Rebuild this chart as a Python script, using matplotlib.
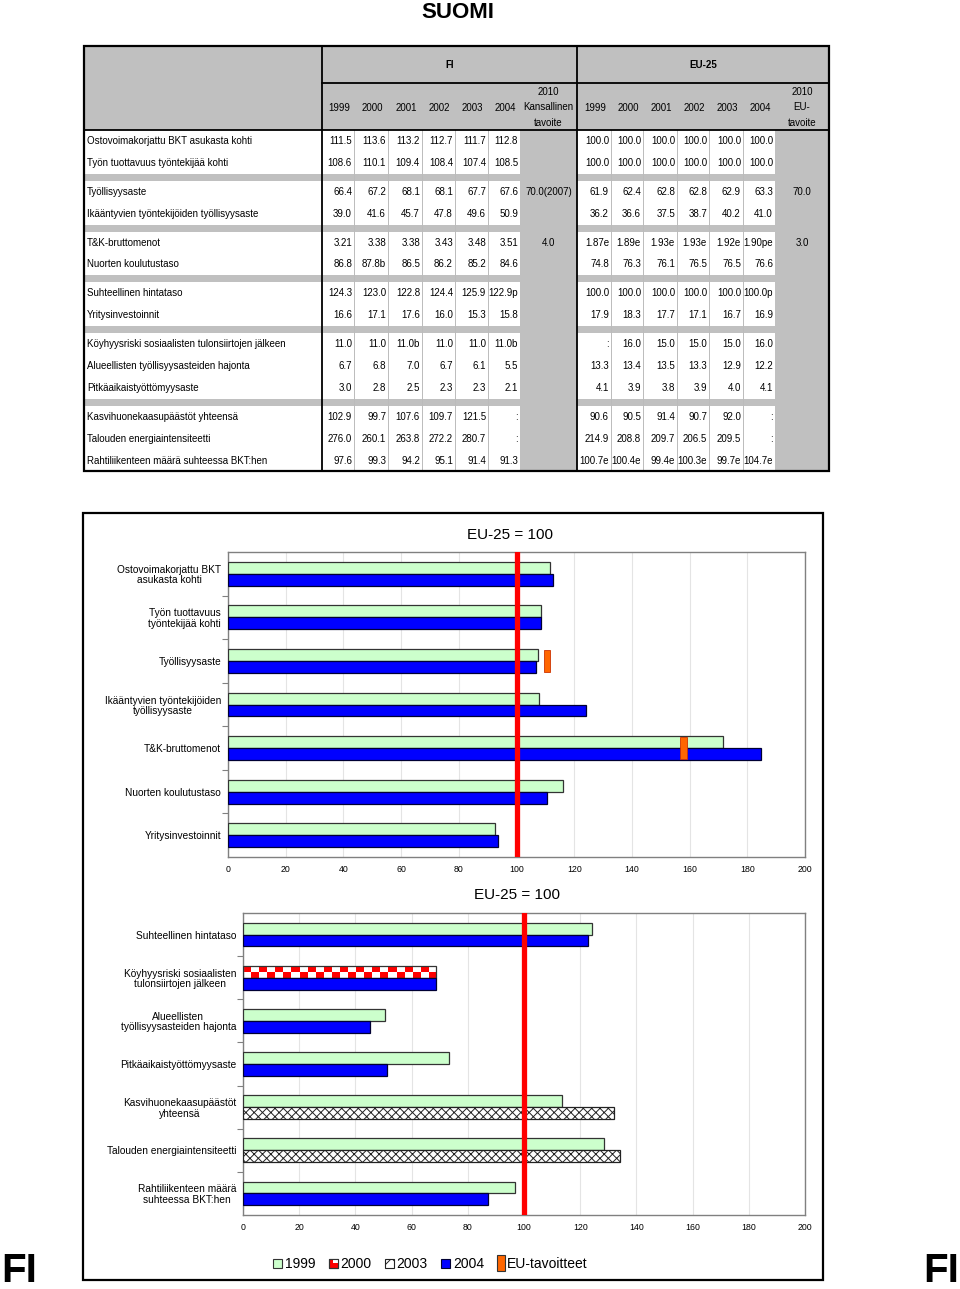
import matplotlib
matplotlib.use("Agg")
import matplotlib.pyplot as plt
from matplotlib.patches import Rectangle
from matplotlib import font_manager
import numpy as np

# ---------------- data ----------------
page_title = "SUOMI"
country_code = "FI"

row_labels = [
    "Ostovoimakorjattu BKT asukasta kohti",
    "Työn tuottavuus työntekijää kohti",
    "Työllisyysaste",
    "Ikääntyvien työntekijöiden työllisyysaste",
    "T&K-bruttomenot",
    "Nuorten koulutustaso",
    "Suhteellinen hintataso",
    "Yritysinvestoinnit",
    "Köyhyysriski sosiaalisten tulonsiirtojen jälkeen",
    "Alueellisten työllisyysasteiden hajonta",
    "Pitkäaikaistyöttömyysaste",
    "Kasvihuonekaasupäästöt yhteensä",
    "Talouden energiaintensiteetti",
    "Rahtiliikenteen määrä suhteessa BKT:hen",
]
row_groups = [2, 2, 2, 2, 3, 3]
years = ["1999", "2000", "2001", "2002", "2003", "2004"]

fi_values = [
    ["111.5", "113.6", "113.2", "112.7", "111.7", "112.8"],
    ["108.6", "110.1", "109.4", "108.4", "107.4", "108.5"],
    ["66.4", "67.2", "68.1", "68.1", "67.7", "67.6"],
    ["39.0", "41.6", "45.7", "47.8", "49.6", "50.9"],
    ["3.21", "3.38", "3.38", "3.43", "3.48", "3.51"],
    ["86.8", "87.8b", "86.5", "86.2", "85.2", "84.6"],
    ["124.3", "123.0", "122.8", "124.4", "125.9", "122.9p"],
    ["16.6", "17.1", "17.6", "16.0", "15.3", "15.8"],
    ["11.0", "11.0", "11.0b", "11.0", "11.0", "11.0b"],
    ["6.7", "6.8", "7.0", "6.7", "6.1", "5.5"],
    ["3.0", "2.8", "2.5", "2.3", "2.3", "2.1"],
    ["102.9", "99.7", "107.6", "109.7", "121.5", ":"],
    ["276.0", "260.1", "263.8", "272.2", "280.7", ":"],
    ["97.6", "99.3", "94.2", "95.1", "91.4", "91.3"],
]
fi_target = ["", "", "70.0(2007)", "", "4.0", "", "", "", "", "", "", "", "", ""]

eu_values = [
    ["100.0", "100.0", "100.0", "100.0", "100.0", "100.0"],
    ["100.0", "100.0", "100.0", "100.0", "100.0", "100.0"],
    ["61.9", "62.4", "62.8", "62.8", "62.9", "63.3"],
    ["36.2", "36.6", "37.5", "38.7", "40.2", "41.0"],
    ["1.87e", "1.89e", "1.93e", "1.93e", "1.92e", "1.90pe"],
    ["74.8", "76.3", "76.1", "76.5", "76.5", "76.6"],
    ["100.0", "100.0", "100.0", "100.0", "100.0", "100.0p"],
    ["17.9", "18.3", "17.7", "17.1", "16.7", "16.9"],
    [":", "16.0", "15.0", "15.0", "15.0", "16.0"],
    ["13.3", "13.4", "13.5", "13.3", "12.9", "12.2"],
    ["4.1", "3.9", "3.8", "3.9", "4.0", "4.1"],
    ["90.6", "90.5", "91.4", "90.7", "92.0", ":"],
    ["214.9", "208.8", "209.7", "206.5", "209.5", ":"],
    ["100.7e", "100.4e", "99.4e", "100.3e", "99.7e", "104.7e"],
]
eu_target = ["", "", "70.0", "", "3.0", "", "", "", "", "", "", "", "", ""]

chart_title = "EU-25 = 100"

chart1_categories = [
    "Ostovoimakorjattu BKT\nasukasta kohti",
    "Työn tuottavuus\ntyöntekijää kohti",
    "Työllisyysaste",
    "Ikääntyvien työntekijöiden\ntyöllisyysaste",
    "T&K-bruttomenot",
    "Nuorten koulutustaso",
    "Yritysinvestoinnit",
]
chart1_upper = [111.5, 108.6, 107.3, 107.7, 171.7, 116.0, 92.7]
chart1_upper_series = ["1999"] * 7
chart1_lower = [112.8, 108.5, 106.8, 124.1, 184.7, 110.4, 93.5]
chart1_lower_series = ["2004"] * 7
chart1_targets = [None, None, 110.6, None, 157.9, None, None]

chart2_categories = [
    "Suhteellinen hintataso",
    "Köyhyysriski sosiaalisten\ntulonsiirtojen jälkeen",
    "Alueellisten\ntyöllisyysasteiden hajonta",
    "Pitkäaikaistyöttömyysaste",
    "Kasvihuonekaasupäästöt\nyhteensä",
    "Talouden energiaintensiteetti",
    "Rahtiliikenteen määrä\nsuhteessa BKT:hen",
]
chart2_upper = [124.3, 68.8, 50.4, 73.2, 113.6, 128.4, 96.9]
chart2_upper_series = ["1999", "2000", "1999", "1999", "1999", "1999", "1999"]
chart2_lower = [122.9, 68.8, 45.1, 51.2, 132.1, 134.0, 87.2]
chart2_lower_series = ["2004", "2004", "2004", "2004", "2003", "2003", "2004"]
chart2_targets = [None] * 7

legend_labels = ["1999", "2000", "2003", "2004", "EU-tavoitteet"]

# ---------------- styles ----------------
W, H, DPI = 960, 1289, 100
_names = {f.name for f in font_manager.fontManager.ttflist}
if "Liberation Sans Narrow" in _names:
    NARROW = ["Liberation Sans Narrow", "DejaVu Sans"]
    FS = 8
else:
    NARROW = ["Liberation Sans", "DejaVu Sans"]
    FS = 7
ARIAL = ["Liberation Sans", "DejaVu Sans"]
GRAY = "#C0C0C0"
STYLE = {
    "1999": dict(fc="#CCFFCC", ec="#333333", hatch=None),
    "2000": dict(fc="white", ec="#333333", hatch="checker"),
    "2003": dict(fc="white", ec="#222222", hatch="xxxx"),
    "2004": dict(fc="#0000FF", ec="#000033", hatch=None),
}
TARGET_FC, TARGET_EC = "#FF6600", "#CC3300"

plt.rcParams["hatch.linewidth"] = 0.7

fig = plt.figure(figsize=(W / DPI, H / DPI), dpi=DPI)
bg = fig.add_axes([0, 0, 1, 1])
bg.set_xlim(0, W)
bg.set_ylim(H, 0)
bg.axis("off")


def frac(x0, y0, x1, y1):
    return [x0 / W, 1 - y1 / H, (x1 - x0) / W, (y1 - y0) / H]


# ---------------- titles ----------------
bg.text(458, 12, page_title, ha="center", va="center", fontsize=16,
        fontweight="bold", family=NARROW)
bg.text(1, 1271, country_code, ha="left", va="center", fontsize=29,
        fontweight="bold", family=NARROW)
bg.text(959, 1271, country_code, ha="right", va="center", fontsize=29,
        fontweight="bold", family=NARROW)

# ---------------- table ----------------
TX0, TX1, TY0, TY1 = 84, 829, 46, 471
LBL_R = 322
FI_COLS = [322, 354, 388, 422, 455, 488, 520]
FI_TGT = (520, 577)
EU_COLS = [577, 611, 643, 677, 709, 743, 775]
EU_TGT = (775, 829)
HDR1, HDR2 = 83, 130
ROW_H, SEP_H = 21.9, 7.0

bg.add_patch(Rectangle((TX0, TY0), TX1 - TX0, TY1 - TY0, fc=GRAY, ec="none", zorder=0))

row_centers = []
y = HDR2
for gi, g in enumerate(row_groups):
    if gi > 0:
        y += SEP_H
    top = y
    for _ in range(g):
        row_centers.append(y + ROW_H / 2)
        y += ROW_H
    for (a, b) in [(TX0, FI_COLS[-1]), (EU_COLS[0], EU_COLS[-1])]:
        bg.add_patch(Rectangle((a, top), b - a, y - top, fc="white", ec="none", zorder=1))

for xs in (FI_COLS[1:-1], EU_COLS[1:-1]):
    for x in xs:
        bg.plot([x, x], [HDR2, TY1], color="#BBBBBB", lw=0.7, zorder=2)

bg.plot([LBL_R, LBL_R], [TY0, TY1], color="black", lw=1.3, zorder=3)
bg.plot([EU_COLS[0], EU_COLS[0]], [TY0, TY1], color="black", lw=1.3, zorder=3)
bg.plot([LBL_R, TX1], [HDR1, HDR1], color="black", lw=1.3, zorder=3)
bg.plot([TX0, TX1], [HDR2, HDR2], color="black", lw=1.3, zorder=3)
bg.add_patch(Rectangle((TX0, TY0), TX1 - TX0, TY1 - TY0, fc="none", ec="black", lw=1.6, zorder=4))

bg.text((FI_COLS[0] + FI_TGT[1]) / 2, 65, country_code, ha="center", va="center",
        fontsize=FS, fontweight="bold", family=NARROW, zorder=5)
bg.text((EU_COLS[0] + EU_TGT[1]) / 2, 65, "EU-25", ha="center", va="center",
        fontsize=FS, fontweight="bold", family=NARROW, zorder=5)
for cols in (FI_COLS, EU_COLS):
    for j, yr in enumerate(years):
        bg.text((cols[j] + cols[j + 1]) / 2 + 1, 108, yr, ha="center", va="center",
                fontsize=FS, family=NARROW, zorder=5)
for (a, b), lines in [(FI_TGT, ["2010", "Kansallinen", "tavoite"]),
                      (EU_TGT, ["2010", "EU-", "tavoite"])]:
    for k, t in enumerate(lines):
        bg.text((a + b) / 2, 92 + 15.5 * k, t, ha="center", va="center",
                fontsize=FS, family=NARROW, zorder=5)

for i, lab in enumerate(row_labels):
    yc = row_centers[i]
    bg.text(TX0 + 3, yc, lab, ha="left", va="center", fontsize=FS, family=NARROW, zorder=5)
    for cols, vals, tgt, trng in [(FI_COLS, fi_values, fi_target, FI_TGT),
                                  (EU_COLS, eu_values, eu_target, EU_TGT)]:
        for j, v in enumerate(vals[i]):
            bg.text(cols[j + 1] - 2, yc, v, ha="right", va="center", fontsize=FS,
                    family=NARROW, zorder=5)
        if tgt[i]:
            bg.text((trng[0] + trng[1]) / 2, yc, tgt[i], ha="center", va="center",
                    fontsize=FS, family=NARROW, zorder=5)

# ---------------- charts ----------------
bg.add_patch(Rectangle((83, 513), 823 - 83, 1280 - 513, fc="none", ec="black", lw=1.6, zorder=4))

BH = 0.275


def draw_bar(ax, yc, val, series):
    st = STYLE[series]
    if st["hatch"] == "checker":
        ax.barh(yc, val, height=BH, color="white", edgecolor="none", zorder=2)
        ncol = max(2, int(round(val / 2.9)))
        board = (np.indices((2, ncol)).sum(axis=0) % 2).astype(float)
        cmap = matplotlib.colors.ListedColormap(["#FF0000", "white"])
        ax.imshow(board, cmap=cmap, extent=(0, val, yc + BH / 2, yc - BH / 2),
                  aspect="auto", interpolation="nearest", zorder=2.5)
        ax.barh(yc, val, height=BH, fill=False, edgecolor=st["ec"], lw=0.9, zorder=3)
    else:
        ax.barh(yc, val, height=BH, color=st["fc"], edgecolor=st["ec"], lw=0.9,
                hatch=st["hatch"], zorder=3)


def draw_chart(rect, cats, upper, upper_s, lower, lower_s, targets, title_xy):
    ax = fig.add_axes(frac(*rect))
    n = len(cats)
    for i in range(n):
        draw_bar(ax, i - BH / 2, upper[i], upper_s[i])
        draw_bar(ax, i + BH / 2, lower[i], lower_s[i])
        if targets[i] is not None:
            ax.barh(i, 2.2, left=targets[i] - 1.1, height=0.5, color=TARGET_FC,
                    edgecolor=TARGET_EC, lw=0.6, zorder=6)
    ax.axvline(100, color="#FF0000", lw=3.8, zorder=5)
    ax.set_xlim(0, 200)
    ax.set_ylim(n - 0.5, -0.5)
    ax.set_xticks(range(0, 201, 20))
    ax.grid(axis="x", color="#E4E4E4", lw=0.8, zorder=0)
    ax.set_axisbelow(True)
    ax.set_yticks(range(n))
    ax.set_yticklabels(cats, fontsize=7.3, family=ARIAL, multialignment="center",
                       linespacing=1.05)
    ax.set_yticks(np.arange(0.5, n - 0.5, 1.0), minor=True)
    ax.tick_params(axis="y", which="major", length=0, pad=5)
    ax.tick_params(axis="y", which="minor", length=4, color="#808080", width=0.8)
    ax.tick_params(axis="x", length=0, labelsize=6.3, pad=6)
    for lab in ax.get_xticklabels():
        lab.set_family(ARIAL)
    for sp in ax.spines.values():
        sp.set_color("#808080")
        sp.set_linewidth(1.0)
    bg.text(title_xy[0], title_xy[1], chart_title, ha="center", va="center",
            fontsize=11, family=NARROW)
    return ax


draw_chart((228, 552, 805, 857), chart1_categories, chart1_upper, chart1_upper_series,
           chart1_lower, chart1_lower_series, chart1_targets, (510, 535))
draw_chart((243, 913, 805, 1215), chart2_categories, chart2_upper, chart2_upper_series,
           chart2_lower, chart2_lower_series, chart2_targets, (517, 895))

# ---------------- legend ----------------
renderer = fig.canvas.get_renderer()
x = 273
ly = 1263
for lab in legend_labels:
    if lab in STYLE:
        st = STYLE[lab]
        if st["hatch"] == "checker":
            bg.add_patch(Rectangle((x, ly - 4.5), 9, 9, fc="#FF0000", ec="#333333", lw=0.8, zorder=5))
            bg.add_patch(Rectangle((x + 4.5, ly - 4.5), 4.5, 4.5, fc="white", ec="none", zorder=5))
            bg.add_patch(Rectangle((x, ly - 4.5), 9, 9, fc="none", ec="#333333", lw=0.8, zorder=6))
        else:
            bg.add_patch(Rectangle((x, ly - 4.5), 9, 9, fc=st["fc"], ec=st["ec"], lw=0.8,
                                   hatch=("xx" if st["hatch"] else None), zorder=5))
        tx = x + 12
    else:
        bg.add_patch(Rectangle((x, ly - 8), 8, 16, fc=TARGET_FC, ec="#333333", lw=0.8, zorder=5))
        tx = x + 10
    t = bg.text(tx, ly + 0.5, lab, ha="left", va="center", fontsize=10, family=ARIAL)
    bb = t.get_window_extent(renderer=renderer)
    x = tx + bb.width + 13

fig.savefig("out.png", dpi=DPI)
